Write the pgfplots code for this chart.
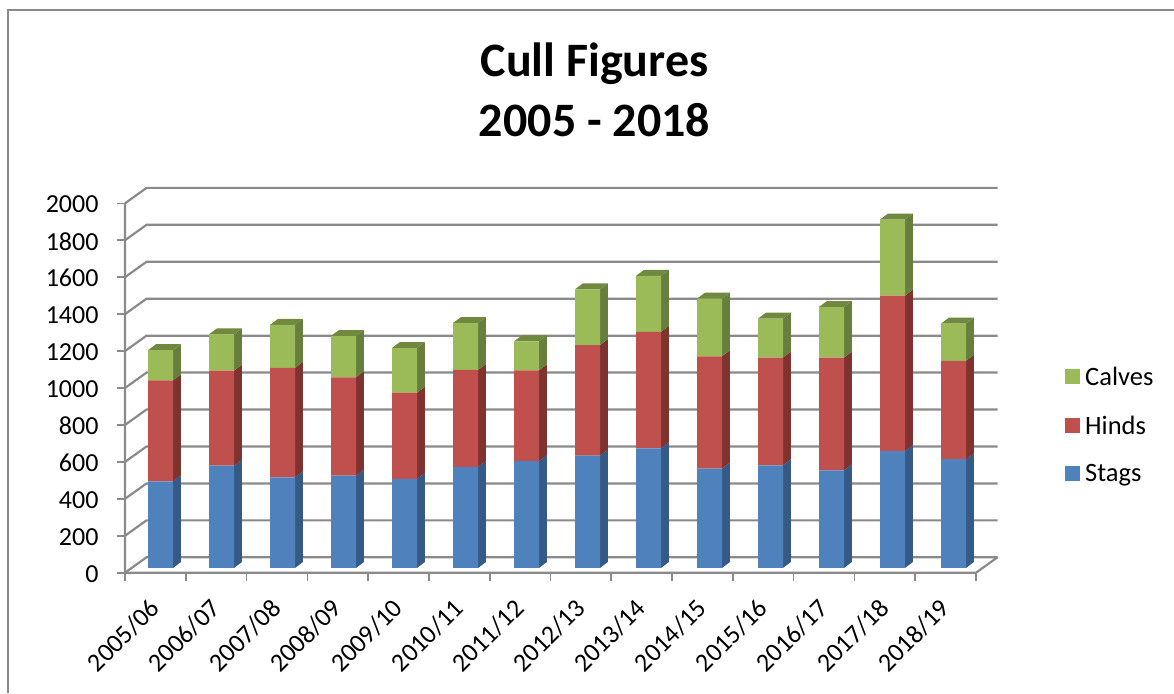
\documentclass[border=0pt]{standalone}
\usepackage{fontspec}
\setmainfont{Carlito}
\usepackage{pgfplots}
\usepackage{pgfplotstable}
\pgfplotsset{compat=1.18}
\definecolor{gridc}{HTML}{8A8A8A}
\definecolor{sblue}{HTML}{4F81BD}
\definecolor{sred}{HTML}{C0504D}
\definecolor{sgreen}{HTML}{9BBB59}
\definecolor{dblue}{HTML}{345A85}
\definecolor{dred}{HTML}{7F3330}
\definecolor{dgreen}{HTML}{677F3C}
\definecolor{tgreen}{HTML}{71893F}
\pgfplotstableread{
idx Stags Hinds Calves
0 469 547 163
1 554 514 197
2 491 592 233
3 500 532 224
4 482 467 242
5 547 525 254
6 578 492 157
7 608 599 302
8 648 630 303
9 538 608 312
10 556 583 211
11 529 610 274
12 633 841 412
13 589 532 202
}\culldata
% one flat face of a bar's depth, in the axis's data coordinates
\newcommand\sideface[4]{% x-left of depth, y0, y1, colour
  \pgfmathsetmacro\xa{#1*1.00345+0.789}\pgfmathsetmacro\xb{#1*1.00345+0.9206}%
  \pgfmathsetmacro\ya{#2+25.5}\pgfmathsetmacro\yb{#3+25.5}%
  \pgfmathsetmacro\yc{#3+58}\pgfmathsetmacro\yd{#2+58}%
  \edef\tmp{\noexpand\addplot[fill=#4,draw=none,forget plot] coordinates {(\xa,\ya)(\xa,\yb)(\xb,\yc)(\xb,\yd)} -- cycle;}\tmp}
\newcommand\topface[3]{% index, top, colour
  \pgfmathsetmacro\xa{#1*1.00345+0.378}\pgfmathsetmacro\xb{#1*1.00345+0.789}%
  \pgfmathsetmacro\xc{#1*1.00345+0.9206}\pgfmathsetmacro\xd{#1*1.00345+0.5096}%
  \pgfmathsetmacro\ya{#2+25.5}\pgfmathsetmacro\yb{#2+58}%
  \edef\tmp{\noexpand\addplot[fill=#3,draw=none,forget plot] coordinates {(\xa,\ya)(\xb,\ya)(\xc,\yb)(\xd,\yb)} -- cycle;}\tmp}
\newcommand\gridlevel[1]{%
  \pgfmathsetmacro\yb{#1+83.4}%
  \edef\tmp{\noexpand\addplot[gridc,line width=2.2pt,forget plot] coordinates {(0,#1)(0.354,\yb)(14.354,\yb)};}\tmp}
\begin{document}
\begin{tikzpicture}[x=1pt,y=1pt]
\path[use as bounding box] (0,0) rectangle (1174,693);
\draw[gridc,line width=2pt] (8,0) -- (8,683) -- (1174,683);
\node[align=center,font=\fontsize{48}{60}\selectfont\bfseries] at (594.5,603) {Cull Figures\\2005 - 2018};
\begin{axis}[
  at={(125pt,120.3pt)},anchor=south west,
  scale only axis,width=872.5pt,height=384.8pt,
  xmin=0,xmax=14.354,ymin=0,ymax=2083.4,
  clip=false,
  axis line style={draw=none},
  xtick={0,1,...,14},
  xticklabels={2005/06,2006/07,2007/08,2008/09,2009/10,2010/11,2011/12,2012/13,2013/14,2014/15,2015/16,2016/17,2017/18,2018/19,{}},
  ytick={0,200,...,2000},
  xtick pos=lower,ytick pos=left,
  tick align=outside,
  major tick length=8pt,
  tick style={gridc,line width=1.6pt},
  xticklabel style={rotate=45,anchor=north east,font=\fontsize{26}{30}\selectfont,xshift=8.2pt,yshift=-24.5pt},
  yticklabel style={font=\fontsize{26}{30}\selectfont,xshift=-15pt,yshift=-1pt},
  /pgf/number format/assume math mode=true,
  /pgf/number format/1000 sep={},
]
\gridlevel{0}\gridlevel{200}\gridlevel{400}\gridlevel{600}\gridlevel{800}\gridlevel{1000}
\gridlevel{1200}\gridlevel{1400}\gridlevel{1600}\gridlevel{1800}\gridlevel{2000}
\addplot[gridc,line width=2.2pt,forget plot] coordinates {(0,2000)(0,0)(14,0)(14.354,83.4)};
\pgfplotsinvokeforeach{0,...,13}{%
  \pgfplotstablegetelem{#1}{Stags}\of\culldata\edef\vS{\pgfplotsretval}%
  \pgfplotstablegetelem{#1}{Hinds}\of\culldata\edef\vH{\pgfplotsretval}%
  \pgfplotstablegetelem{#1}{Calves}\of\culldata\edef\vC{\pgfplotsretval}%
  \pgfmathsetmacro\cA{\vS}\pgfmathsetmacro\cB{\vS+\vH}\pgfmathsetmacro\cC{\vS+\vH+\vC}%
  \edef\cA{\cA}\edef\cB{\cB}\edef\cC{\cC}%
  \sideface{#1}{0}{\cA}{dblue}%
  \sideface{#1}{\cA}{\cB}{dred}%
  \sideface{#1}{\cB}{\cC}{dgreen}%
  \topface{#1}{\cC}{tgreen}%
}
\end{axis}
\begin{axis}[
  at={(125pt,125pt)},anchor=south west,
  scale only axis,width=854pt,height=369.4pt,
  xmin=-0.585,xmax=13.415,ymin=0,ymax=2000,
  hide axis,
  ybar stacked,bar width=25pt,
  area legend,
  reverse legend,
  legend cell align=left,
  legend image code/.code={\fill[#1] (0pt,-7.5pt) rectangle (15pt,7.5pt);},
  legend style={at={(1.0972,0.387)},anchor=west,draw=none,fill=none,
    font=\fontsize{26.5}{30}\selectfont,row sep=25pt,
    nodes={inner xsep=5pt},
    /tikz/every even column/.append style={column sep=0pt}},
]
\addplot[fill=sblue,draw=none] table[x=idx,y=Stags]{\culldata};
\addlegendentry{Stags}
\addplot[fill=sred,draw=none] table[x=idx,y=Hinds]{\culldata};
\addlegendentry{Hinds}
\addplot[fill=sgreen,draw=none] table[x=idx,y=Calves]{\culldata};
\addlegendentry{Calves}
\end{axis}
\end{tikzpicture}
\end{document}
